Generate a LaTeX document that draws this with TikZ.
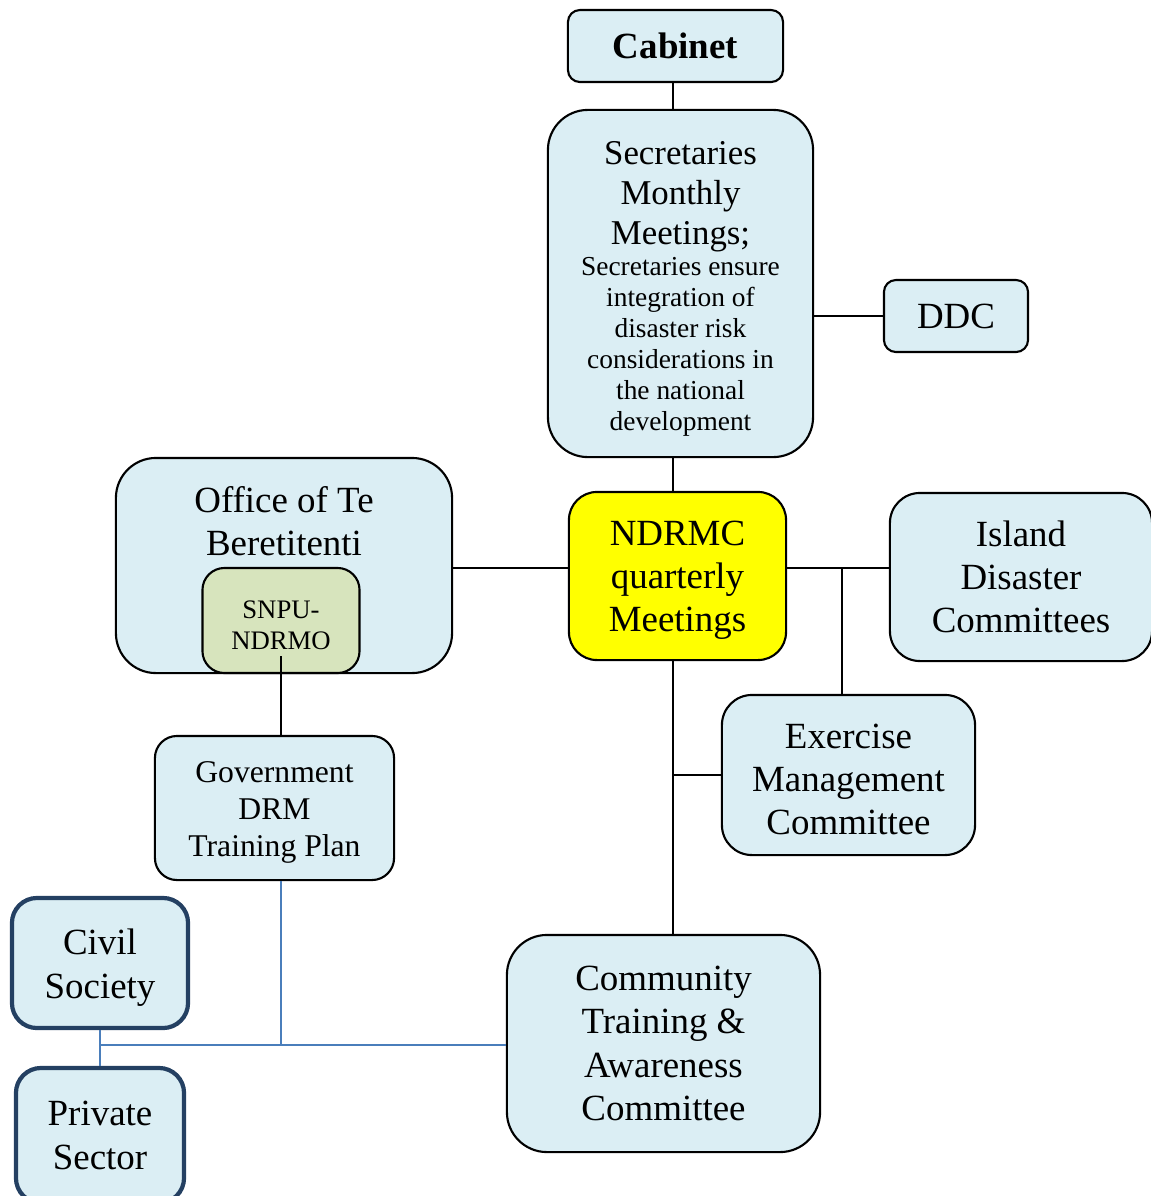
\documentclass[tikz,border=0pt]{standalone}
\usepackage{fontspec}
\setmainfont{Liberation Serif}
\usetikzlibrary{positioning}

\begin{document}
\begin{tikzpicture}[x=0.01cm, y=-0.01cm]
	\definecolor{boxFill}{RGB}{219, 238, 244}
	\definecolor{snpuFill}{RGB}{215, 228, 189}
	\definecolor{meetYellow}{RGB}{255, 255, 0}
	\definecolor{partnerBorder}{RGB}{36, 64, 98}
	\definecolor{linkBlue}{RGB}{74, 126, 187}
	\tikzstyle{unit}=[rectangle, draw, line width=0.6pt, fill=boxFill, rounded corners=0.3cm, align=center, inner sep=0pt, font=\fontsize{10.5}{12.3}\selectfont]
	\tikzstyle{partner}=[unit, draw=partnerBorder, line width=1.2pt, rounded corners=0.25cm]
	\tikzstyle{link}=[-, line width=0.6pt]
	\tikzstyle{bluelink}=[-, line width=0.5pt, color=linkBlue]

	\useasboundingbox (0,0) rectangle (1150,1196);

	\node [unit, minimum width=2.15cm, minimum height=0.72cm, rounded corners=0.12cm, font=\fontsize{10.5}{12.3}\selectfont\bfseries] (cabinet) at (675.5,46) {Cabinet};
	\node [unit, minimum width=2.65cm, minimum height=3.47cm, rounded corners=0.4cm, text width=2.5cm, align=flush center] (secretaries) at (680.5,283.5)
		{\fontsize{9.9}{11.4}\selectfont\rule{0pt}{9.4pt}Secretaries\par Monthly\par Meetings;\par
		\fontsize{7.8}{8.8}\selectfont Secretaries ensure\par integration of\par disaster risk\par considerations in\par the national\par development\par};
	\node [unit, minimum width=1.44cm, minimum height=0.72cm, rounded corners=0.12cm] (ddc) at (956,316) {DDC};
	\node [unit, minimum width=3.36cm, minimum height=2.15cm, rounded corners=0.4cm,
		label={[anchor=north, align=center, inner sep=0pt, yshift=-0.29cm, font=\fontsize{10.5}{12.3}\selectfont]north:{Office of Te\\Beretitenti}}] (office) at (284,565.5) {};
	\node [unit, fill=snpuFill, minimum width=1.57cm, minimum height=1.05cm, rounded corners=0.22cm, font=\fontsize{7.6}{8.8}\selectfont] (snpu) at (281,620.5) {\rule{0pt}{7.5pt}SNPU-\\NDRMO};
	\node [unit, fill=meetYellow, minimum width=2.17cm, minimum height=1.68cm, rounded corners=0.28cm] (ndrmc) at (677.5,576) {\rule{0pt}{9.5pt}NDRMC\\quarterly\\Meetings};
	\node [unit, minimum width=2.62cm, minimum height=1.68cm] (island) at (1021,577) {Island\\Disaster\\Committees};
	\node [unit, minimum width=2.53cm, minimum height=1.6cm] (exercise) at (848.5,775) {\rule{0pt}{9.5pt}Exercise\\Management\\Committee};
	\node [unit, minimum width=2.39cm, minimum height=1.44cm, rounded corners=0.22cm, font=\fontsize{9}{10.5}\selectfont] (government) at (274.5,808) {\rule{0pt}{8.5pt}Government\\DRM\\Training Plan};
	\node [partner, minimum width=1.76cm, minimum height=1.3cm] (civil) at (100,963) {\rule{0pt}{10pt}Civil\\Society};
	\node [partner, minimum width=1.68cm, minimum height=1.35cm] (private) at (100,1135.5) {Private\\Sector};
	\node [unit, minimum width=3.13cm, minimum height=2.17cm, rounded corners=0.4cm] (community) at (663.5,1043.5) {Community\\Training \&\\Awareness\\Committee};

	% branch points
	\coordinate (spine) at (673,0);
	\coordinate (hub) at (842,568);
	\coordinate (exbranch) at (673,775);
	\coordinate (civicjoin) at (281,1045);

	\draw [link] (spine |- cabinet.south) -- (spine |- secretaries.north);
	\draw [link] (secretaries.east |- ddc.west) -- (ddc.west);
	\draw [link] (spine |- secretaries.south) -- (spine |- ndrmc.north);
	\draw [link] (office.east |- hub) -- (ndrmc.west |- hub);
	\draw [link] (ndrmc.east |- hub) -- (island.west |- hub);
	\draw [link] (hub) -- (hub |- exercise.north);
	\draw [link] (spine |- ndrmc.south) -- (spine |- community.north);
	\draw [link] (exbranch) -- (exercise.west |- exbranch);
	\draw [link, line width=0.5pt] ([yshift=0.18cm]snpu.south) -- (snpu.south |- government.north);

	\draw [bluelink] (civicjoin |- government.south) -- (civicjoin);
	\draw [bluelink] (civil.south |- civicjoin) -- (community.west |- civicjoin);
	\draw [bluelink] (civil.south) -- (private.north);
\end{tikzpicture}
\end{document}
